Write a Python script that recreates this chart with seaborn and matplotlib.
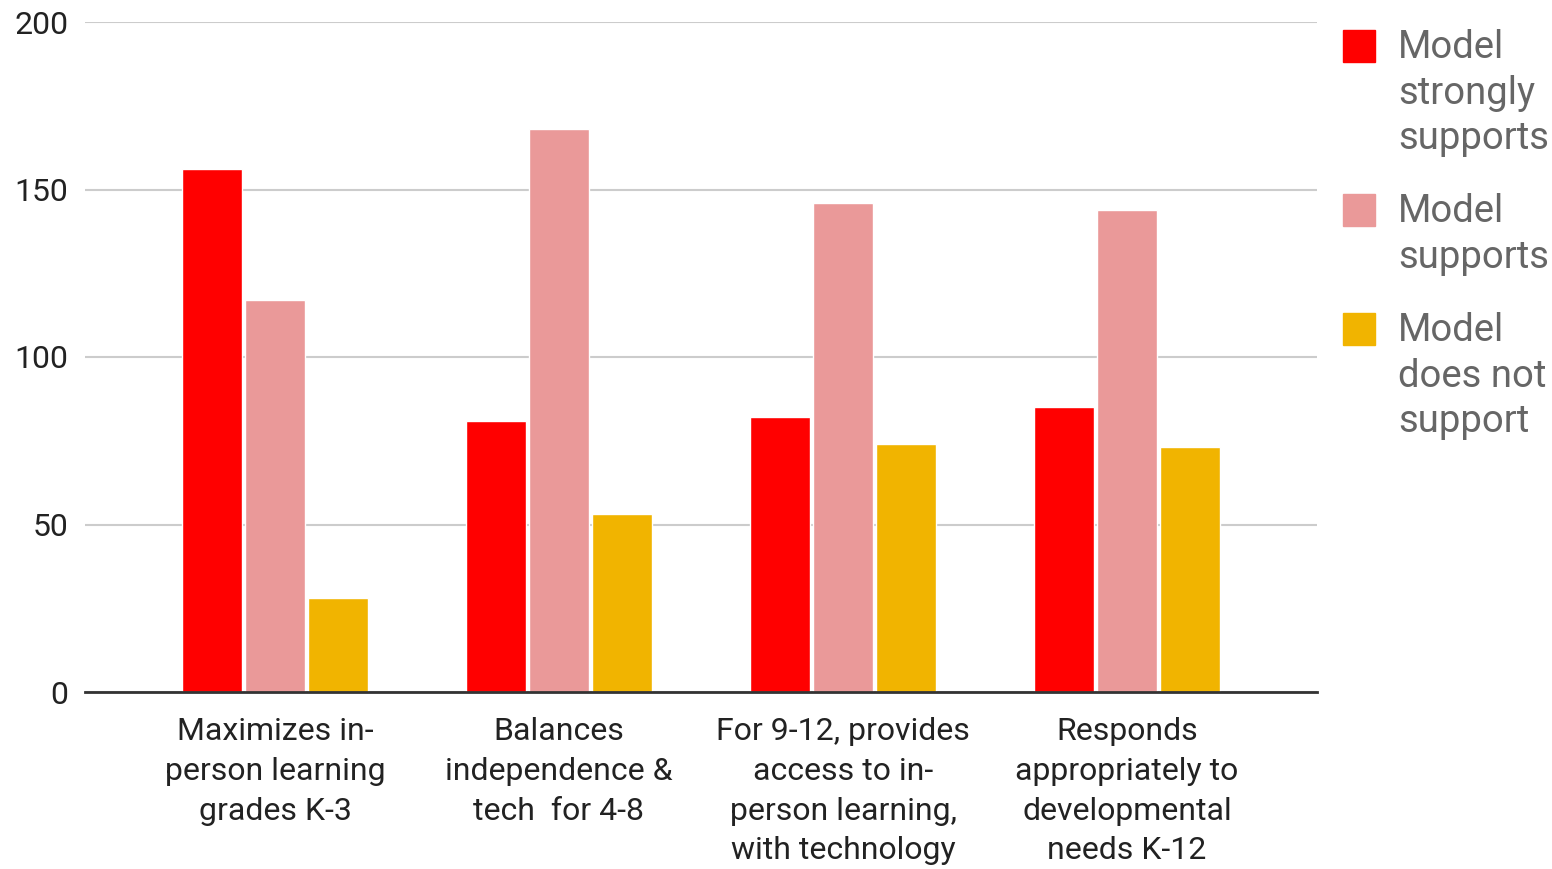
import pandas as pd
import matplotlib
matplotlib.use("Agg")
import matplotlib.pyplot as plt
from matplotlib.patches import Rectangle
import seaborn as sns

# Chart data
categories = [
    "Maximizes in-\nperson learning\ngrades K-3",
    "Balances\nindependence &\ntech  for 4-8",
    "For 9-12, provides\naccess to in-\nperson learning,\nwith technology",
    "Responds\nappropriately to\ndevelopmental\nneeds K-12",
]
series = ["Model strongly supports", "Model supports", "Model does not support"]
legend_labels = ["Model\nstrongly\nsupports", "Model\nsupports", "Model\ndoes not\nsupport"]
strongly_supports = [156, 81, 82, 85]
supports = [117, 168, 146, 144]
does_not_support = [28, 53, 74, 73]
colors = ["#ff0000", "#ea9999", "#f1b400"]

df = pd.DataFrame({
    "category": categories * 3,
    "series": [s for s in series for _ in categories],
    "value": strongly_supports + supports + does_not_support,
})

sns.set_style("white")
plt.rcParams["font.family"] = ["Roboto", "DejaVu Sans"]

W, H = 1552, 869
fig = plt.figure(figsize=(W / 100, H / 100), dpi=100)
ax = fig.add_axes([85 / W, 1 - 692 / H, (1317 - 85) / W, (692 - 22) / H])

sns.barplot(data=df, x="category", y="value", hue="series", palette=colors,
            width=0.665, gap=0.05, saturation=1, ax=ax, legend=False)

ax.set_xlim(-0.669, 3.669)
ax.set_ylim(0, 200)
ax.set_yticks([0, 50, 100, 150, 200])
ax.yaxis.grid(True, color="#cccccc", linewidth=1.5)
ax.set_axisbelow(True)
for s in ["top", "right", "left"]:
    ax.spines[s].set_visible(False)
ax.spines["bottom"].set_color("#333333")
ax.spines["bottom"].set_linewidth(2)
ax.set_xlabel("")
ax.set_ylabel("")
ax.tick_params(axis="y", length=0, pad=12, labelsize=23, labelcolor="#222222")
ax.tick_params(axis="x", length=0, pad=18, labelsize=23, labelcolor="#222222")
plt.setp(ax.get_xticklabels(), linespacing=1.47)

# legend drawn by hand so each square sits at the first text line
leg_tops = [30, 194, 313]
for lab, col, top in zip(legend_labels, colors, leg_tops):
    fig.patches.append(Rectangle((1343 / W, 1 - (top + 32) / H), 32 / W, 32 / H,
                                 transform=fig.transFigure, color=col))
    fig.text(1398 / W, 1 - (top - 1) / H, lab, ha="left", va="top",
             fontsize=27.5, color="#666666", linespacing=1.3)

fig.savefig("out.png", dpi=100)
